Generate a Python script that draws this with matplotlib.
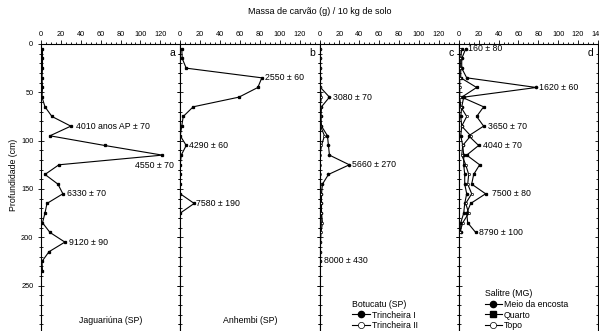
import numpy as np
import matplotlib.pyplot as plt
from matplotlib.ticker import MultipleLocator

plt.rcParams['font.family'] = ['Liberation Sans', 'DejaVu Sans']

# profundidades (cm)
prof = np.arange(5, 240, 10)

# Jaguariúna (SP)
jaguariuna = [1.5, 1.5, 1.5, 1, 1.5, 1, 4, 11, 30, 9, 64, 122,
              18, 4, 17, 22, 6, 4, 1.5, 9, 24, 8, 1, 1.5]

# Anhembi (SP)
anhembi_prof = prof[:18]
anhembi = [1.5, 2, 6, 82, 78, 59, 13, 3, 1.5, 0, 6, 1, 0, 0, 0, 0, 14, 0]

# Botucatu (SP)
botu_prof = prof[:23]
trincheira1 = [1, 1, 1, 1, 1, 10, 2, 1.5, 2, 8, 9, 10, 30, 9, 3, 2, 2, 2,
               1.5, 1, 1, 1, 1]
trincheira2 = [0.5, 0.5, 0.5, 0.5, 0.5, 2, 0.5, 0.5, 1, 5, 2, 0.5, 0.5, 1,
               1, 1.5, 1.5, 2, 3, 1.5, 1, 0.5, 0.5]

# Salitre (MG)
sal_prof = prof[:20]
meio_encosta = [7, 3, 3, 8, 78, 5, 3, 2, 3, 2, 4, 5, 5, 6, 6, 8, 6, 5, 2, 2]
quarto = [3, 2, 2, 2, 18, 3, 25, 18, 25, 10, 20, 8, 21, 15, 13, 27, 12, 8, 9, 17]
topo = [1, 1, 1, 1, 1, 1, 2, 8, 3, 12, 4, 3, 7, 10, 9, 13, 7, 10, 4, 1]

# datações
anot_a = [("4010 anos AP ± 70", 35, 85, 'left'), ("4550 ± 70", 134, 126, 'right'),
          ("6330 ± 70", 26, 155, 'left'), ("9120 ± 90", 28, 205, 'left')]
anot_b = [("2550 ± 60", 85, 35, 'left'), ("4290 ± 60", 9, 105, 'left'),
          ("7580 ± 190", 16, 165, 'left')]
anot_c = [("3080 ± 70", 14, 55, 'left'), ("5660 ± 270", 33, 125, 'left'),
          ("8000 ± 430", 5, 224, 'left')]
anot_d = [("160 ± 80", 9, 5, 'left'), ("1620 ± 60", 81, 45, 'left'),
          ("3650 ± 70", 29, 85, 'left'), ("4040 ± 70", 24, 105, 'left'),
          ("7500 ± 80", 33, 155, 'left'), ("8790 ± 100", 20, 195, 'left')]

fig = plt.figure(figsize=(5.99, 3.31), dpi=100)
W, H = 599, 331
x0, largura = 41, 139.25
topo_px, base_px = 44, 331
axes = []
for i in range(4):
    ax = fig.add_axes([(x0 + i * largura) / W, 1 - base_px / H,
                       largura / W, (base_px - topo_px) / H],
                      sharey=axes[0] if axes else None)
    axes.append(ax)

lk = dict(color='black', lw=0.8)
axes[0].plot(jaguariuna, prof, marker='s', ms=1.4, mfc='black', **lk)
axes[1].plot(anhembi, anhembi_prof, marker='s', ms=1.4, mfc='black', **lk)
axes[2].plot(trincheira1, botu_prof, marker='o', ms=1.6, mfc='black',
             label='Trincheira I', **lk)
axes[2].plot(trincheira2, botu_prof, marker='o', ms=1.6, mfc='white', mew=0.5,
             label='Trincheira II', **lk)
axes[3].plot(meio_encosta, sal_prof, marker='o', ms=1.6, mfc='black',
             label='Meio da encosta', **lk)
axes[3].plot(quarto, sal_prof, marker='s', ms=1.4, mfc='black',
             label='Quarto', **lk)
axes[3].plot(topo, sal_prof, marker='o', ms=1.6, mfc='white', mew=0.5,
             label='Topo', **lk)

for ax, anots in zip(axes, [anot_a, anot_b, anot_c, anot_d]):
    for txt, xx, yy, ha in anots:
        ax.text(xx, yy, txt, ha=ha, va='center', fontsize=6.3)

for ax, letra in zip(axes, 'abcd'):
    ax.set_xlim(0, 140)
    ax.set_ylim(297, 0)
    ax.xaxis.tick_top()
    ax.set_xticks(np.arange(0, 140, 20))
    ax.xaxis.set_minor_locator(MultipleLocator(5))
    ax.yaxis.set_major_locator(MultipleLocator(50))
    ax.yaxis.set_minor_locator(MultipleLocator(10))
    ax.tick_params(axis='x', which='major', labelsize=5.3, length=3, width=0.6, pad=1.5)
    ax.tick_params(axis='x', which='minor', length=1.5, width=0.6)
    ax.tick_params(axis='y', which='both', left=True, right=True,
                   direction='inout', width=0.6, labelsize=5.3)
    ax.tick_params(axis='y', which='major', length=4)
    ax.tick_params(axis='y', which='minor', length=2.5)
    ax.spines['bottom'].set_visible(False)
    for s in ['left', 'right', 'top']:
        ax.spines[s].set_linewidth(0.8)
    ax.text(0.965, 0.985, letra, transform=ax.transAxes, ha='right', va='top',
            fontsize=7.5)
    if ax is not axes[0]:
        ax.tick_params(axis='y', labelleft=False)
axes[3].set_xticks(np.arange(0, 141, 20))
axes[3].set_xlim(0, 140)

axes[0].text(0.5, 0.02, 'Jaguariúna (SP)', transform=axes[0].transAxes,
             ha='center', va='bottom', fontsize=6.3)
axes[1].text(0.5, 0.02, 'Anhembi (SP)', transform=axes[1].transAxes,
             ha='center', va='bottom', fontsize=6.3)

for ax, titulo, bx in [(axes[2], 'Botucatu (SP)', 0.18), (axes[3], 'Salitre (MG)', 0.13)]:
    leg = ax.legend(title=titulo, loc='lower left', bbox_to_anchor=(bx, -0.025),
                    frameon=False, fontsize=6.3, title_fontsize=6.3,
                    handlelength=2.0, handletextpad=0.2, labelspacing=0.2,
                    markerscale=2.8)
    leg._legend_box.align = 'left'

fig.text((x0 + 2 * largura) / W, 1 - 11 / H, 'Massa de carvão (g) / 10 kg de solo',
         ha='center', va='center', fontsize=6.5)
fig.text(13 / W, 1 - 175 / H, 'Profundidade (cm)', rotation=90,
         ha='center', va='center', fontsize=6.3)

fig.savefig('out.png', dpi=100)
